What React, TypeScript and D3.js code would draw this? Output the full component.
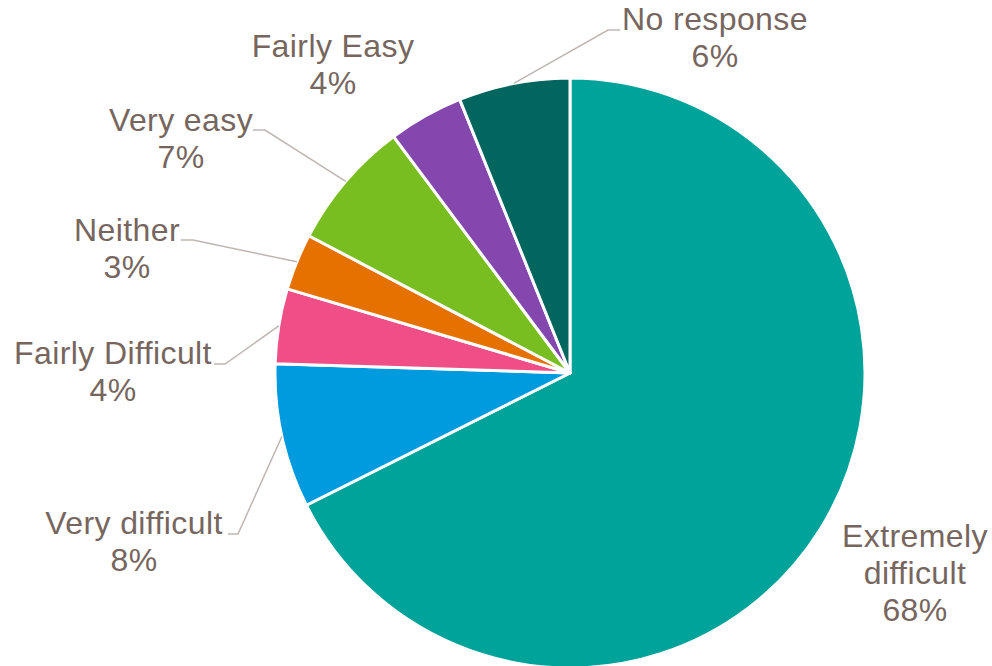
import React from "react";
import * as d3 from "d3";

const categories = ["Extremely difficult", "Very difficult", "Fairly Difficult", "Neither", "Very easy", "Fairly Easy", "No response"];
const values = [67.6, 7.9, 4.1, 3.1, 7.1, 4.1, 6.1];
const percentLabels = ["68%", "8%", "4%", "3%", "7%", "4%", "6%"];
const colors = ["#00A39A", "#009ADE", "#EF4E86", "#E57200", "#78BE20", "#8347AD", "#00665E"];

// label layout: lines, text centre x, first baseline y, leader elbow (or null)
const labelLayout = [
  { lines: ["Extremely", "difficult", "68%"], x: 915, y: 547, elbow: null as null | [number, number, number] },
  { lines: ["Very difficult", "8%"], x: 134, y: 534, elbow: [228, 238, 534] as [number, number, number] },
  { lines: ["Fairly Difficult", "4%"], x: 113, y: 364, elbow: [214, 225, 364] as [number, number, number] },
  { lines: ["Neither", "3%"], x: 127, y: 241, elbow: [181, 193, 240] as [number, number, number] },
  { lines: ["Very easy", "7%"], x: 181, y: 131, elbow: [253, 265, 130] as [number, number, number] },
  { lines: ["Fairly Easy", "4%"], x: 333, y: 57, elbow: null },
  { lines: ["No response", "6%"], x: 715, y: 30, elbow: [620, 608, 30] as [number, number, number] },
];

export default function App() {
  const W = 992, H = 666;
  const cx = 570, cy = 373, R = 295;
  const data = categories.map((c, i) => ({ c, v: values[i], i }));
  const pie = d3.pie<any>().value((d) => d.v).sort(null).startAngle(0).endAngle(2 * Math.PI);
  const arcs = pie(data);
  const arc = d3.arc<any>().innerRadius(0).outerRadius(R);
  const textColor = "#76665E";
  const font = "'Liberation Sans', Arial, Helvetica, sans-serif";
  return (
    <svg width={W} height={H} style={{ position: "absolute", left: 0, top: 0 }}>
      <rect width={W} height={H} fill="#fff" />
      <text x={80} y={-6} fontSize={30} fontFamily={font} fill="#333">g</text>
      <g transform={`translate(${cx},${cy})`}>
        {arcs.map((a, i) => (
          <path key={i} d={arc(a) as string} fill={colors[i]} stroke="#fff" strokeWidth={3} strokeLinejoin="round" />
        ))}
      </g>
      {arcs.map((a, i) => {
        const L = labelLayout[i];
        const mid = (a.startAngle + a.endAngle) / 2;
        const px = cx + R * Math.sin(mid);
        const py = cy - R * Math.cos(mid);
        return (
          <g key={i}>
            {L.elbow && (
              <polyline
                points={`${L.elbow[0]},${L.elbow[2]} ${L.elbow[1]},${L.elbow[2]} ${px},${py}`}
                fill="none"
                stroke="#C0B6B1"
                strokeWidth={1.5}
              />
            )}
            <text x={L.x} y={L.y} textAnchor="middle" fontFamily={font} fontSize={32} letterSpacing={0.4} fill={textColor}>
              {L.lines.map((ln, j) => (
                <tspan key={j} x={L.x} y={L.y + j * 37}>{j === L.lines.length - 1 ? percentLabels[i] : ln}</tspan>
              ))}
            </text>
          </g>
        );
      })}
    </svg>
  );
}
